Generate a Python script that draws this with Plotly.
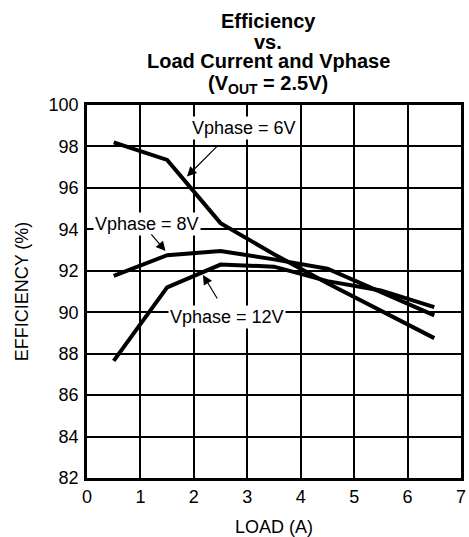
import plotly.graph_objects as go

# Data
load_a = [0.5, 1.5, 2.5, 3.5, 4.5, 5.5, 6.5]
eff_6v = [98.2, 97.35, 94.3, 92.8, 91.4, 90.05, 88.75]
eff_8v = [91.75, 92.75, 92.95, 92.55, 92.1, 90.95, 89.85]
eff_12v = [87.65, 91.2, 92.3, 92.2, 91.5, 91.05, 90.25]

title_lines = ["Efficiency", "vs.", "Load Current and Vphase", "(V<sub>OUT</sub> = 2.5V)"]
x_ticks = [0, 1, 2, 3, 4, 5, 6, 7]
y_ticks = [82, 84, 86, 88, 90, 92, 94, 96, 98, 100]

FONT = "Liberation Sans, Arial, sans-serif"

fig = go.Figure()
for name, ys in [("Vphase = 6V", eff_6v), ("Vphase = 8V", eff_8v), ("Vphase = 12V", eff_12v)]:
    fig.add_trace(go.Scatter(x=load_a, y=ys, mode="lines", name=name,
                             line=dict(color="black", width=4), showlegend=False))

annotations = []
# title lines
title_y = [1.226, 1.170, 1.119, 1.056]
for t, yy in zip(title_lines, title_y):
    annotations.append(dict(text="<b>%s</b>" % t, xref="paper", yref="paper", x=0.484, y=yy,
                            xanchor="center", yanchor="middle", showarrow=False,
                            font=dict(family=FONT, size=20, color="black")))

# curve labels
labels = [("Vphase = 6V", 2.93, 98.88), ("Vphase = 8V", 1.13, 94.27), ("Vphase = 12V", 2.617, 89.75)]
for t, lx, ly in labels:
    annotations.append(dict(text=t, x=lx, y=ly, xref="x", yref="y", showarrow=False,
                            bgcolor="white", borderpad=1,
                            font=dict(family=FONT, size=18, color="black")))

# arrows (head, tail)
arrows = [((1.87, 96.55), (2.47, 98.1)), ((1.47, 92.95), (1.18, 93.83)), ((2.17, 91.8), (2.455, 90.59))]
for (hx, hy), (tx, ty) in arrows:
    annotations.append(dict(text="", x=hx, y=hy, ax=tx, ay=ty, xref="x", yref="y",
                            axref="x", ayref="y", showarrow=True, arrowhead=2,
                            arrowsize=1.6, arrowwidth=1.2, arrowcolor="black", standoff=0))

fig.update_layout(
    width=469, height=537,
    margin=dict(l=87, r=8, t=105, b=59, autoexpand=False),
    paper_bgcolor="white", plot_bgcolor="white",
    font=dict(family=FONT, size=18, color="black"),
    annotations=annotations,
)
fig.update_xaxes(range=[0, 7], tickvals=x_ticks, showgrid=True, gridcolor="black", gridwidth=1.5,
                 showline=True, linecolor="black", linewidth=2.5, mirror=True, zeroline=False,
                 ticks="", ticklabelstandoff=1, ticklabeloverflow="allow", automargin=False,
                 title=dict(text="LOAD (A)", font=dict(size=18), standoff=17),
                 tickfont=dict(size=18))
fig.update_yaxes(range=[82, 100], tickvals=y_ticks, showgrid=True, gridcolor="black", gridwidth=1.5,
                 showline=True, linecolor="black", linewidth=2.5, mirror=True, zeroline=False,
                 ticks="", ticklabelstandoff=2, automargin=False,
                 title=dict(text="EFFICIENCY (%)", font=dict(size=18), standoff=16),
                 tickfont=dict(size=18))

fig.write_html("out.html", config={"displayModeBar": False},
               post_script="document.body.style.margin='0';")
